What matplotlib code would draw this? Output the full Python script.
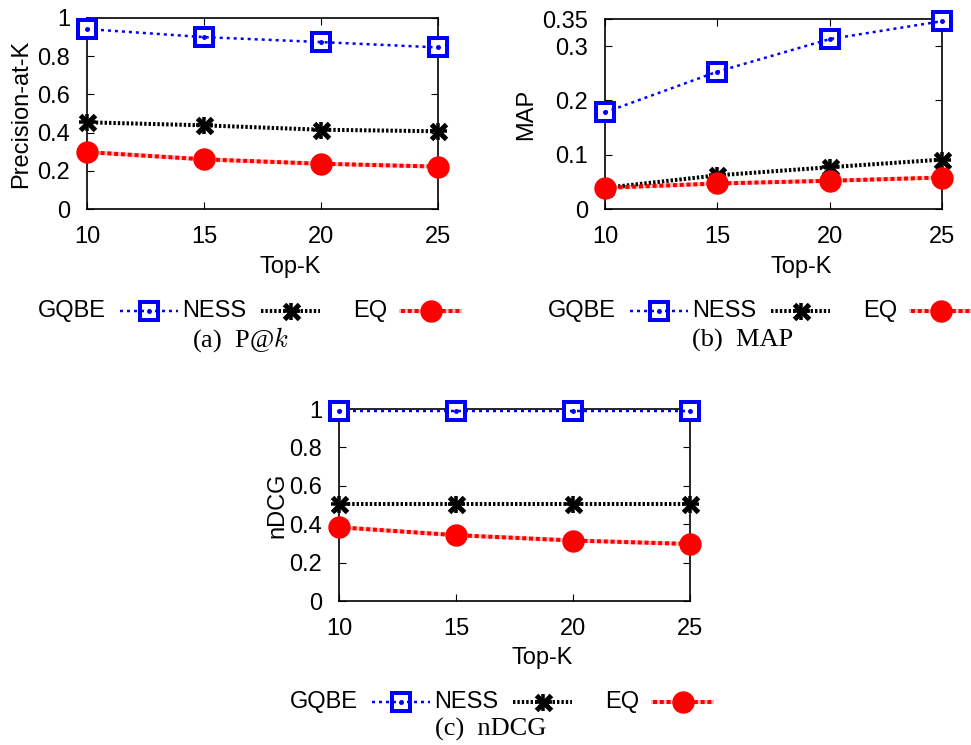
import matplotlib
matplotlib.use("Agg")
import matplotlib.pyplot as plt

plt.rcParams['font.family'] = ['Liberation Sans', 'DejaVu Sans']
plt.rcParams['mathtext.fontset'] = 'cm'

W, H = 971, 745

topk = [10, 15, 20, 25]
xtick_labels = ["10", "15", "20", "25"]

# (a) Precision-at-K
prec_gqbe = [0.942, 0.900, 0.874, 0.846]
prec_ness = [0.454, 0.438, 0.415, 0.407]
prec_eq = [0.298, 0.260, 0.237, 0.222]
prec_yticks = [0, 0.2, 0.4, 0.6, 0.8, 1]
prec_ylabels = ["0", "0.2", "0.4", "0.6", "0.8", "1"]

# (b) MAP
map_gqbe = [0.178, 0.253, 0.313, 0.346]
map_ness = [0.039, 0.062, 0.077, 0.091]
map_eq = [0.039, 0.047, 0.052, 0.058]
map_yticks = [0, 0.1, 0.2, 0.3, 0.35]
map_ylabels = ["0", "0.1", "0.2", "0.3", "0.35"]

# (c) nDCG
ndcg_gqbe = [0.987, 0.987, 0.987, 0.987]
ndcg_ness = [0.504, 0.504, 0.504, 0.504]
ndcg_eq = [0.384, 0.343, 0.315, 0.297]
ndcg_yticks = [0, 0.2, 0.4, 0.6, 0.8, 1]
ndcg_ylabels = ["0", "0.2", "0.4", "0.6", "0.8", "1"]

series_names = ["GQBE", "NESS", "EQ"]

BLUE = (0, 0, 1)
BLACK = (0, 0, 0)
RED = (1, 0, 0)
PINK = (1, 0.72, 0.72)

PX = 0.72  # points per pixel at dpi 100
FS = 17


def pix_axes(fig, left, top, right, bottom):
    return fig.add_axes([left / W, 1 - bottom / H, (right - left) / W, (bottom - top) / H])


def draw_series(ax, x, y, kind):
    if kind == "GQBE":
        ax.plot(x, y, linestyle='none', marker='s', markersize=18 * PX,
                markerfacecolor='white', markeredgecolor=BLUE,
                markeredgewidth=4 * PX, zorder=3, clip_on=False)
        ax.plot(x, y, color=BLUE, lw=2.5 * PX, linestyle=(0, (1.2, 1.6)),
                zorder=4, clip_on=False)
        ax.plot(x, y, linestyle='none', marker='o', markersize=3.5 * PX, color=BLUE,
                zorder=4, clip_on=False)
    elif kind == "NESS":
        ax.plot(x, y, color=BLACK, lw=4 * PX, linestyle=(0, (0.6, 0.5)),
                zorder=3, clip_on=False)
        ax.plot(x, y, linestyle='none', marker='x', markersize=15 * PX,
                markeredgecolor=BLACK, markeredgewidth=5 * PX, zorder=4, clip_on=False)
        ax.plot(x, y, linestyle='none', marker='+', markersize=17 * PX,
                markeredgecolor=BLACK, markeredgewidth=3.5 * PX, zorder=4, clip_on=False)
    else:
        ax.plot(x, y, color=PINK, lw=4 * PX, zorder=2, clip_on=False)
        ax.plot(x, y, color=RED, lw=4 * PX, linestyle=(0, (1.0, 0.7)),
                zorder=3, clip_on=False)
        ax.plot(x, y, linestyle='none', marker='o', markersize=21 * PX,
                markerfacecolor=RED, markeredgecolor=RED, zorder=4, clip_on=False)


def style_axes(ax, ymax, yticks, ylabels):
    ax.set_xlim(10, 25)
    ax.set_ylim(0, ymax)
    ax.set_xticks(topk)
    ax.set_xticklabels(xtick_labels)
    ax.set_yticks(yticks)
    ax.set_yticklabels(ylabels)
    ax.tick_params(direction='in', top=True, right=True, length=5, width=0.8,
                   labelsize=FS)
    ax.tick_params(axis='x', pad=12)
    ax.tick_params(axis='y', pad=12)
    for s in ax.spines.values():
        s.set_linewidth(1.2)


panels = [
    dict(box=(87, 18, 438, 209), data=(prec_gqbe, prec_ness, prec_eq),
         ymax=1.0, yt=prec_yticks, yl=prec_ylabels, ylabel="Precision-at-K",
         ylab_x=21, xlab=(290, 267)),
    dict(box=(605, 19, 942, 209), data=(map_gqbe, map_ness, map_eq),
         ymax=0.35, yt=map_yticks, yl=map_ylabels, ylabel="MAP",
         ylab_x=526, xlab=(801, 267)),
    dict(box=(339, 409, 690, 601), data=(ndcg_gqbe, ndcg_ness, ndcg_eq),
         ymax=1.0, yt=ndcg_yticks, yl=ndcg_ylabels, ylabel="nDCG",
         ylab_x=277, xlab=(542, 658)),
]

fig = plt.figure(figsize=(W / 100, H / 100), dpi=100)

for p in panels:
    ax = pix_axes(fig, *p['box'])
    for name, vals in zip(series_names, p['data']):
        draw_series(ax, topk, vals, name)
    style_axes(ax, p['ymax'], p['yt'], p['yl'])

# overlay axes in pixel coordinates for labels, legends and captions
ov = fig.add_axes([0, 0, 1, 1])
ov.set_xlim(0, W)
ov.set_ylim(H, 0)
ov.axis('off')

for p in panels:
    top, bottom = p['box'][1], p['box'][3]
    ov.text(p['ylab_x'], (top + bottom) / 2, p['ylabel'], rotation=90,
            ha='center', va='center', fontsize=FS)
    ov.text(p['xlab'][0], p['xlab'][1], "Top-K", ha='center', va='center', fontsize=FS)


def legend_row(dx, y):
    items = [("GQBE", 106, 120, 178), ("NESS", 246, 261, 320), ("EQ", 387, 401, 460)]
    for name, tx, l0, l1 in items:
        ov.text(tx + dx, y, name, ha='right', va='center', fontsize=FS)
        xs = [l0 + dx, l1 + dx]
        ys = [y, y]
        mid = (l0 + l1) / 2 + dx
        if name == "GQBE":
            ov.plot([mid], [y], marker='s', markersize=18 * PX, markerfacecolor='white',
                    markeredgecolor=BLUE, markeredgewidth=4 * PX)
            ov.plot(xs, ys, color=BLUE, lw=2.5 * PX, linestyle=(0, (1.2, 1.6)))
            ov.plot([mid], [y], marker='o', markersize=3.5 * PX, color=BLUE)
        elif name == "NESS":
            ov.plot(xs, ys, color=BLACK, lw=4 * PX, linestyle=(0, (0.6, 0.5)))
            ov.plot([mid], [y], marker='x', markersize=15 * PX, markeredgecolor=BLACK,
                    markeredgewidth=5 * PX)
            ov.plot([mid], [y], marker='+', markersize=17 * PX, markeredgecolor=BLACK,
                    markeredgewidth=3.5 * PX)
        else:
            ov.plot(xs, ys, color=PINK, lw=4 * PX)
            ov.plot(xs, ys, color=RED, lw=4 * PX, linestyle=(0, (1.0, 0.7)))
            ov.plot([mid], [y], marker='o', markersize=21 * PX, color=RED)


legend_row(0, 311)
legend_row(510, 311)
legend_row(252, 702)

cap_font = ['Liberation Serif', 'DejaVu Serif']
CFS = 19
ov.text(240, 340, r"(a)  P@$k$", ha='center', va='center', fontsize=CFS, family=cap_font)
ov.text(743, 340, "(b)  MAP", ha='center', va='center', fontsize=CFS, family=cap_font)
ov.text(491, 729, "(c)  nDCG", ha='center', va='center', fontsize=CFS, family=cap_font)

fig.savefig("out.png", dpi=100)
